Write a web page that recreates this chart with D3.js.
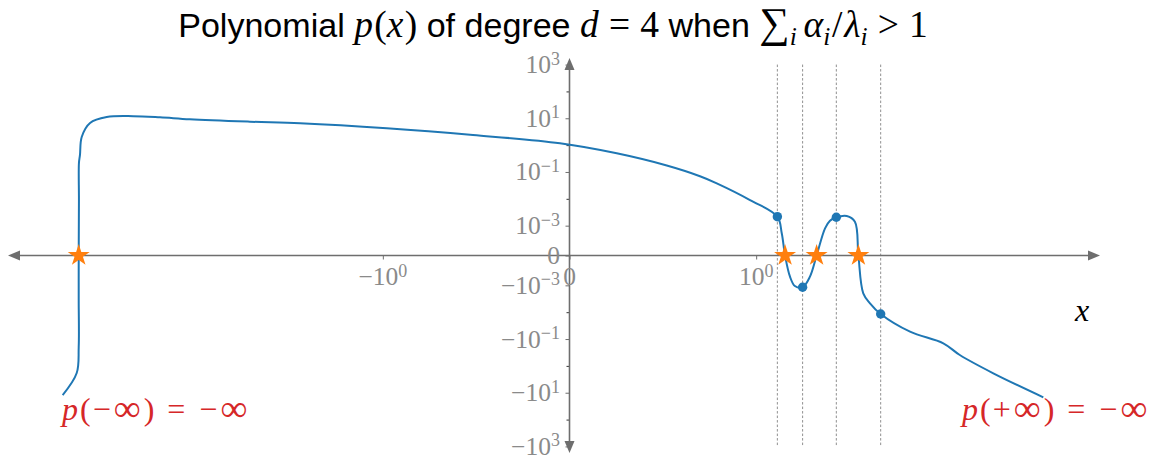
<!DOCTYPE html>
<html><head><meta charset="utf-8">
<script src="https://cdn.jsdelivr.net/npm/d3@7"></script>
<style>body{margin:0;background:#fff}</style>
</head><body>
<svg id="chart" width="1162" height="472"></svg>
<script>
// ---- data ----
const curveX = [-80.5, -66.4, -64.6, -64.6, -64.6, -64.4, -64.4, -63.5, -62.0, -55.3, -44.0, -30.6, -21.2, -14.1, -6.18, -3.11, -0.979, -0.517, -0.051, 0.253, 0.521, 0.699, 0.789, 0.967, 1.337, 1.42, 1.486, 1.59, 1.70, 1.89, 2.09, 2.29, 2.57, 2.75, 3.00, 3.46, 3.87, 4.06, 4.34, 4.76, 5.51, 8.24, 13.0, 16.3, 25.8, 51.2];
const curveY = [-12.2, -1.84, -0.198, -0.0036, 0, 0.009, 0.216, 0.429, 2.0, 6.67, 11.1, 12.0, 10.9, 9.2, 7.45, 6.5, 4.23, 2.38, 1.17, 0.495, 0.174, 0.0695, 0.0378, 0.00903, 0.00216, 0.000744, 0, -0.00071, -0.00106, -0.00118, -0.00071, 0, 0.00091, 0.00153, 0.00205, 0.00229, 0.00141, 0, -0.00198, -0.00467, -0.0117, -0.0533, -0.144, -0.394, -1.89, -14.8];
const lambdaX = [1.337, 1.89, 3.00, 5.51];
const lambdaY = [0.00216, -0.00118, 0.00205, -0.0117];
const rootX = [-64.6, 1.486, 2.29, 4.06];
const xTicks = [-1, 0, 1];
const xTickLabels = ["−10^0", "0", "10^0"];
const yTicks = [1e3, 1e1, 1e-1, 1e-3, 0, -1e-3, -1e-1, -1e1, -1e3];
const yTickLabels = ["10^3", "10^1", "10^−1", "10^−3", "0", "−10^−3", "−10^−1", "−10^1", "−10^3"];
const yMinorTicks = [1e2, 1, 1e-2, -1e-2, -1, -1e2];
const yLimit = 1e3;

// ---- symlog transform (matplotlib style) ----
const LINSCALE = 1 / (1 - 1 / 10);
function symlog(th) {
  return v => { const a = Math.abs(v); return a <= th ? v / th * LINSCALE : Math.sign(v) * (LINSCALE + Math.log10(a / th)); };
}
const tx = symlog(1), ty = symlog(1e-3);

const X0 = 569.5, XDEC = 168, Y0 = 255.5, YDEC = 26.85;
const x = d3.scaleLinear().domain([0, 1]).range([X0, X0 + XDEC]);
const y = d3.scaleLinear().domain([0, 1]).range([Y0, Y0 - YDEC]);
const X = v => x(tx(v)), Y = v => y(ty(v));

const AX = "#6e6e6e", LBL = "#8a8a8a", BLUE = "#1f77b4", ORANGE = "#ff7f0e", RED = "#d62728";
const SERIF = "'Liberation Serif', 'DejaVu Serif', serif";
const SANS = "'Liberation Sans', 'DejaVu Sans', sans-serif";

const svg = d3.select("#chart");

// vertical dashed lines at lambdas
svg.append("g").selectAll("line").data(lambdaX).join("line")
  .attr("x1", d => X(d)).attr("x2", d => X(d))
  .attr("y1", Y(yLimit)).attr("y2", Y(-yLimit))
  .attr("stroke", "#8f8f8f").attr("stroke-width", 1).attr("stroke-dasharray", "2.5,2");

// x axis
const gx = svg.append("g").attr("transform", `translate(0,${Y0})`)
  .call(d3.axisBottom(x).tickValues(xTicks.map(tx)).tickSize(4).tickFormat(""));
gx.select(".domain").remove();
gx.selectAll(".tick line").attr("stroke", AX);
svg.append("line").attr("x1", 18).attr("x2", 1090).attr("y1", Y0).attr("y2", Y0).attr("stroke", AX).attr("stroke-width", 1.6);
svg.append("path").attr("d", `M8,${Y0} L20,${Y0 - 5} L20,${Y0 + 5} Z`).attr("fill", AX);
svg.append("path").attr("d", `M1100,${Y0} L1088,${Y0 - 5} L1088,${Y0 + 5} Z`).attr("fill", AX);

// y axis
const gy = svg.append("g").attr("transform", `translate(${X0},0)`)
  .call(d3.axisLeft(y).tickValues(yTicks.map(ty)).tickSize(4).tickFormat(""));
gy.select(".domain").remove();
gy.selectAll(".tick line").attr("stroke", AX);
const gym = svg.append("g").attr("transform", `translate(${X0},0)`)
  .call(d3.axisLeft(y).tickValues(yMinorTicks.map(ty)).tickSize(3).tickFormat(""));
gym.select(".domain").remove();
gym.selectAll(".tick line").attr("stroke", "#333");
svg.append("line").attr("x1", X0).attr("x2", X0).attr("y1", 68).attr("y2", 443).attr("stroke", AX).attr("stroke-width", 1.6);
svg.append("path").attr("d", `M${X0},58 L${X0 - 5},70 L${X0 + 5},70 Z`).attr("fill", AX);
svg.append("path").attr("d", `M${X0},453 L${X0 - 5},441 L${X0 + 5},441 Z`).attr("fill", AX);

function powLabel(t, str, big, small) {
  const parts = str.split("^");
  t.append("tspan").text(parts[0]).attr("font-size", big);
  if (parts[1]) t.append("tspan").text(parts[1]).attr("font-size", small).attr("dy", -8.5);
}
// x tick labels
xTicks.forEach((v, i) => {
  const t = svg.append("text").attr("x", X(v)).attr("y", 285).attr("text-anchor", "middle")
    .attr("font-family", SERIF).attr("fill", LBL);
  powLabel(t, xTickLabels[i], 25.5, 18);
});
// y tick labels
yTicks.forEach((v, i) => {
  const t = svg.append("text").attr("x", 560).attr("y", Y(v) + 8.5).attr("text-anchor", "end")
    .attr("font-family", SERIF).attr("fill", LBL);
  powLabel(t, yTickLabels[i], 25.5, 18);
});

// curve
const pts = curveX.map((d, i) => [d, curveY[i]]);
svg.append("path").datum(pts)
  .attr("d", d3.line().x(d => X(d[0])).y(d => Y(d[1])).curve(d3.curveCatmullRom.alpha(0.5)))
  .attr("fill", "none").attr("stroke", BLUE).attr("stroke-width", 2);

// lambda dots
svg.append("g").selectAll("circle").data(lambdaX).join("circle")
  .attr("cx", d => X(d)).attr("cy", (d, i) => Y(lambdaY[i])).attr("r", 4.7).attr("fill", BLUE);

// roots (stars)
svg.append("g").selectAll("path").data(rootX).join("path")
  .attr("transform", d => `translate(${X(d)},${Y(0)})`)
  .attr("d", d3.symbol().type(d3.symbolStar).size(150))
  .attr("fill", ORANGE);

// title (fitted to the reference width)
const TITLE_W = 750, TITLE_CX = 553;
function buildTitle(b) {
  svg.select("#title").remove();
  const title = svg.append("text").attr("id", "title").attr("x", TITLE_CX).attr("y", 37)
    .attr("text-anchor", "middle").attr("fill", "#000");
  const sub = 0.24 * b;
  const T = (s, sans, o = {}) => {
    const sp = title.append("tspan").text(s).attr("font-family", sans ? SANS : SERIF)
      .attr("font-size", (o.k || (sans ? 1 : 1.1)) * b);
    if (o.it) sp.attr("font-style", "italic");
    if (o.dy) sp.attr("dy", o.dy);
    if (o.dx) sp.attr("dx", o.dx * b);
  };
  T("Polynomial ", 1);
  T("p", 0, { it: 1 }); T("(", 0, { dx: 0.04 }); T("x", 0, { it: 1 }); T(")", 0, { dx: 0.04 });
  T(" of degree ", 1);
  T("d", 0, { it: 1 }); T("=", 0, { dx: 0.3 }); T("4", 0, { dx: 0.3 });
  T(" when ", 1);
  T("∑", 0, { k: 1.25 });
  T("i", 0, { it: 1, k: 0.75, dy: sub });
  T("α", 0, { it: 1, dx: 0.2, dy: -sub });
  T("i", 0, { it: 1, k: 0.75, dy: sub });
  T("/", 0, { dy: -sub, dx: 0.05 });
  T("λ", 0, { it: 1, dx: 0.05 });
  T("i", 0, { it: 1, k: 0.75, dy: sub });
  T(">", 0, { dx: 0.3, dy: -sub });
  T("1", 0, { dx: 0.3 });
  return title.node().getBBox().width;
}
let tb = 30;
const w0 = buildTitle(tb);
buildTitle(tb * TITLE_W / w0);

// x label
svg.append("text").attr("x", 1082).attr("y", 321).attr("text-anchor", "middle")
  .attr("font-family", SERIF).attr("font-style", "italic").attr("font-size", 32).text("x");

// limit labels
function limitLabel(xpos, sign) {
  const t = svg.append("text").attr("x", xpos).attr("y", 420).attr("fill", RED)
    .attr("font-family", SERIF).attr("font-size", 32);
  const S = (s, dx, o = {}) => {
    const sp = t.append("tspan").text(s).attr("dx", dx);
    if (o.it) sp.attr("font-style", "italic");
    if (o.k) sp.attr("font-size", 32 * o.k).attr("dy", o.dy || 0);
  };
  S("p", 0, { it: 1 });
  S("(", 2);
  S(sign, 2);
  S("∞", 3, { k: 1.18, dy: 1 });
  S(")", 3, { k: 1, dy: -1 });
  S("=", 13);
  S("−", 14);
  S("∞", 3, { k: 1.18, dy: 1 });
}
limitLabel(62, "−");
limitLabel(962, "+");
</script>
</body></html>
